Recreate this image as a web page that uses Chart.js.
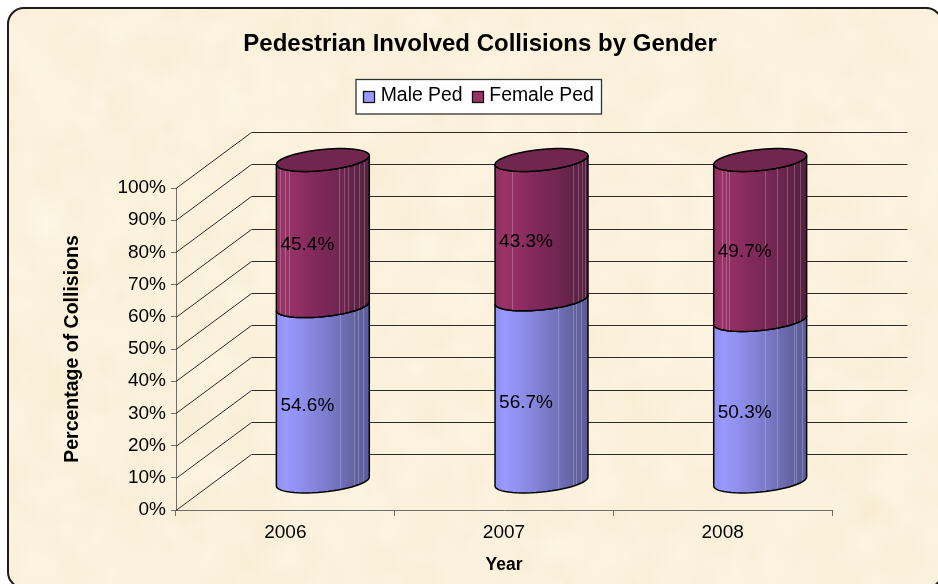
<!DOCTYPE html>
<html><head><meta charset="utf-8">
<style>html,body{margin:0;padding:0;background:#fff}canvas{display:block}</style>
<script src="https://cdn.jsdelivr.net/npm/chart.js@4/dist/chart.umd.min.js"></script>
</head><body>
<canvas id="c" width="938" height="584"></canvas>
<script>
const years = ['2006', '2007', '2008'];
const malePed = [54.6, 56.7, 50.3];
const femalePed = [45.4, 43.3, 49.7];
const chartTitle = 'Pedestrian Involved Collisions by Gender';
const xTitle = 'Year';
const yTitle = 'Percentage of Collisions';
const FONT = '"Liberation Sans", Arial, sans-serif';
const DX = 37.5, DY = -28, WALL_DX = 75.5, WALL_DY = -56;
const TILT = 4.5, RY = 10.5;
const facetsBySeries = [
  [[.68, .84, .875, .93], [.68, .84, .875, .93], [.55, .685, .86, .89, .945, .99]],
  [[.035, .09, .135, .675, .73, .775, .83, .885, .94], [.18, .84, .89, .94, .97], [.09, .13, .17, .55, .685, .79, .86, .93]]
];

function texture(ctx, W, H) {
  let s = 12345;
  const next = () => (s = (s * 16807) % 2147483647) / 2147483647;
  for (let i = 0; i < 1500; i++) {
    const x = next() * W, y = next() * H, r = 6 + next() * 24;
    const light = next() > .45;
    const g = ctx.createRadialGradient(x, y, 0, x, y, r);
    const col = light ? '255,250,236' : '246,233,204';
    g.addColorStop(0, 'rgba(' + col + ',.2)');
    g.addColorStop(1, 'rgba(' + col + ',0)');
    ctx.fillStyle = g;
    ctx.fillRect(x - r, y - r, 2 * r, 2 * r);
  }
}
function panelPath(ctx) {
  ctx.beginPath();
  ctx.roundRect(8, 8, 934, 580, 16);
}
const ell = (cx, cy, rx, t) => [cx + rx * Math.cos(t), cy - TILT * Math.cos(t) + RY * Math.sin(t)];
function frontArc(ctx, cx, cy, rx, fromLeft) {
  const n = 28;
  for (let i = 0; i <= n; i++) {
    const t = fromLeft ? Math.PI * (1 - i / n) : Math.PI * (i / n);
    const p = ell(cx, cy, rx, t);
    ctx.lineTo(p[0], p[1]);
  }
}
function sideGradient(ctx, x0, x1, stops) {
  const g = ctx.createLinearGradient(x0, 0, x1, 0);
  stops.forEach(s => g.addColorStop(s[0], s[1]));
  return g;
}
const maleStops = [[0, '#8f8ff0'], [.1, '#9999ff'], [.35, '#8a8ae4'], [.7, '#6f6fb8'], [.85, '#62629f'], [1, '#5c5c9c']];
const femaleStops = [[0, '#8f3062'], [.1, '#9a3468'], [.4, '#83295c'], [.7, '#6f2650'], [.85, '#5f2347'], [1, '#57213f']];

const cylinderPlugin = {
  id: 'cylinder',
  afterLayout(chart) {
    const t = chart.titleBlock, l = chart.legend;
    if (t) { const w = t.right - t.left; const h = t.bottom - t.top;
      t.left = 480 - w / 2; t.right = 480 + w / 2; t.top = 30; t.bottom = 30 + h; }
    if (l) { const h = l.bottom - l.top;
      l.left = 354; l.right = l.left + 260; l.top = 77; l.bottom = 77 + h; }
  },
  beforeDraw(chart) {
    const ctx = chart.ctx, W = chart.width, H = chart.height;
    ctx.save();
    ctx.fillStyle = '#fff'; ctx.fillRect(0, 0, W, H);
    panelPath(ctx); ctx.fillStyle = '#fbf1dc'; ctx.fill();
    ctx.clip();
    texture(ctx, W, H);
    ctx.restore();
    ctx.save();
    panelPath(ctx); ctx.lineWidth = 2; ctx.strokeStyle = '#1c1c1c'; ctx.stroke();
    ctx.fillStyle = '#fff'; ctx.strokeStyle = '#333'; ctx.lineWidth = 1.3;
    ctx.fillRect(356, 79.5, 245.5, 34.5); ctx.strokeRect(356, 79.5, 245.5, 34.5);
    ctx.restore();
  },
  beforeDatasetsDraw(chart) {
    const ctx = chart.ctx, ys = chart.scales.y, a = chart.chartArea;
    ctx.save();
    ctx.strokeStyle = '#2b2b2b'; ctx.lineWidth = 1;
    ys.ticks.forEach(tk => {
      const y = Math.round(ys.getPixelForValue(tk.value)) + .5;
      ctx.beginPath();
      ctx.moveTo(a.left, y);
      ctx.lineTo(a.left + WALL_DX, y + WALL_DY);
      ctx.lineTo(a.right + WALL_DX, y + WALL_DY);
      ctx.stroke();
    });
    const m0 = chart.getDatasetMeta(0), m1 = chart.getDatasetMeta(1);
    years.forEach((_, i) => {
      [[m0, maleStops], [m1, femaleStops]].forEach((pair, sIdx) => {
        const el = pair[0].data[i];
        const cx = el.x + DX, rx = el.width / 2;
        const yTop = el.y + DY, yBase = el.base + DY;
        const x0 = cx - rx, x1 = cx + rx;
        ctx.save();
        ctx.beginPath();
        ctx.moveTo(x0, yTop + TILT);
        frontArc(ctx, cx, yTop, rx, true);
        frontArc(ctx, cx, yBase, rx, false);
        ctx.closePath();
        ctx.save();
        ctx.clip();
        ctx.fillStyle = sideGradient(ctx, x0, x1, pair[1]);
        ctx.fillRect(x0, yTop - 20, x1 - x0, yBase - yTop + 40);
        ctx.strokeStyle = 'rgba(255,255,255,.22)'; ctx.lineWidth = 1;
        facetsBySeries[sIdx][i].forEach(f => {
          const lx = Math.round(x0 + f * (x1 - x0)) + .5;
          ctx.beginPath(); ctx.moveTo(lx, yTop - 20); ctx.lineTo(lx, yBase + 20); ctx.stroke();
        });
        ctx.restore();
        ctx.strokeStyle = '#000'; ctx.lineWidth = 1.5;
        ctx.beginPath();
        ctx.moveTo(x0, yTop + TILT); ctx.lineTo(x0, yBase + TILT);
        frontArc(ctx, cx, yBase, rx, true);
        ctx.lineTo(x1, yTop - TILT);
        ctx.stroke();
        ctx.beginPath();
        frontArc(ctx, cx, yTop, rx, true);
        ctx.stroke();
        ctx.restore();
      });
      const top = m1.data[i], cx = top.x + DX, rx = top.width / 2, cy = top.y + DY;
      ctx.beginPath();
      for (let k = 0; k <= 56; k++) { const p = ell(cx, cy, rx, k / 56 * 2 * Math.PI); ctx.lineTo(p[0], p[1]); }
      ctx.closePath();
      ctx.fillStyle = '#70264f'; ctx.fill();
      ctx.strokeStyle = '#000'; ctx.lineWidth = 1.5; ctx.stroke();
    });
    ctx.restore();
  },
  beforeDatasetDraw() { return false; },
  afterDraw(chart) {
    const ctx = chart.ctx;
    ctx.save();
    ctx.fillStyle = '#000'; ctx.textAlign = 'center'; ctx.textBaseline = 'middle';
    ctx.font = '19px ' + FONT;
    chart.data.datasets.forEach((ds, d) => {
      const meta = chart.getDatasetMeta(d);
      ds.data.forEach((v, i) => {
        const el = meta.data[i];
        ctx.fillText(v.toFixed(1) + '%', el.x + 22, (el.y + el.base) / 2 - 16);
      });
    });
    const boxes = chart.legend.legendHitBoxes;
    boxes.forEach((b, i) => {
      const x = Math.round(b.left) + .5, y = 91.5;
      ctx.fillStyle = chart.data.datasets[i].backgroundColor;
      ctx.strokeStyle = '#111'; ctx.lineWidth = 1.3;
      ctx.fillRect(x, y, 11, 11); ctx.strokeRect(x, y, 11, 11);
    });
    ctx.restore();
  }
};

const chart = new Chart(document.getElementById('c'), {
  type: 'bar',
  data: {
    labels: years,
    datasets: [
      { label: 'Male Ped', data: malePed, backgroundColor: '#9999ff', stack: 's', barPercentage: .425, categoryPercentage: 1 },
      { label: 'Female Ped', data: femalePed, backgroundColor: '#993366', stack: 's', barPercentage: .425, categoryPercentage: 1 }
    ]
  },
  plugins: [cylinderPlugin],
  options: {
    responsive: false,
    animation: false,
    events: [],
    layout: { autoPadding: false, padding: { left: 40, right: 106, top: 60, bottom: 8 } },
    plugins: {
      tooltip: { enabled: false },
      title: { display: true, text: chartTitle, color: '#000', padding: 0,
        font: { family: FONT, size: 24, weight: 'bold' } },
      legend: { display: true, position: 'top', align: 'start',
        labels: { boxWidth: 8, boxHeight: 11, padding: 9, color: '#000',
          font: { family: FONT, size: 19.4 },
          generateLabels(c) {
            return c.data.datasets.map((d, i) => ({ text: d.label, fillStyle: 'transparent', strokeStyle: 'transparent', lineWidth: 0, datasetIndex: i, fontColor: '#000' }));
          } } }
    },
    scales: {
      x: {
        stacked: true,
        afterFit(s) { s.height = 66; },
        border: { color: '#6e6e6e', width: 1 },
        grid: { display: true, drawOnChartArea: false, offset: true, tickLength: 6, color: '#6e6e6e' },
        ticks: { color: '#000', padding: 5, maxRotation: 0, font: { family: FONT, size: 19 } },
        title: { display: true, text: xTitle, color: '#000', padding: { top: 0, bottom: 0 },
          font: { family: FONT, size: 17.5, weight: 'bold' } }
      },
      y: {
        stacked: true, min: 0, max: 100,
        afterFit(s) { s.width = 136; },
        border: { color: '#6e6e6e', width: 1 },
        grid: { display: true, drawOnChartArea: false, tickLength: 5, color: '#6e6e6e' },
        ticks: { stepSize: 10, color: '#000', padding: 5, callback: v => v + '%', autoSkip: false, font: { family: FONT, size: 19 } },
        title: { display: true, text: yTitle, color: '#000', padding: { top: 21, bottom: 0 },
          font: { family: FONT, size: 19.5, weight: 'bold' } }
      }
    }
  }
});
const fix = 188 - chart.chartArea.top;
if (fix) { chart.options.layout.padding.top += fix; chart.update(); }
</script>
</body></html>
